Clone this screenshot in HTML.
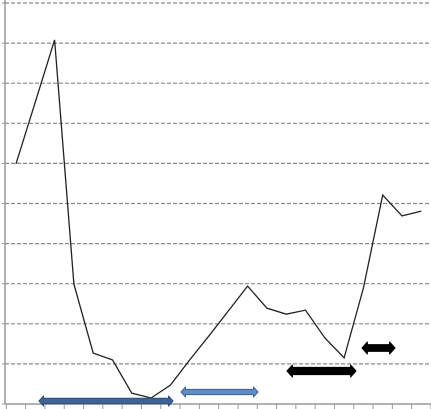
<!DOCTYPE html>
<html><head><meta charset="utf-8"><style>
html,body{margin:0;padding:0;background:#fff;}
svg{display:block;font-family:"Liberation Sans",sans-serif;}
</style></head><body>
<svg id="chart" width="431" height="409" viewBox="0 0 431 409" xmlns="http://www.w3.org/2000/svg">
<g id="grid"></g><g id="axes"></g><g id="series"></g><g id="arrows"></g>
</svg>
<script>
const categories = Array.from({length:22},(_,i)=>'C'+(i+1));
const values = [5.99,7.53,9.08,2.99,1.27,1.10,0.27,0.15,0.47,1.10,1.70,2.32,2.94,2.39,2.24,2.34,1.65,1.15,2.89,5.21,4.69,4.81];
const yTicks = [0,1,2,3,4,5,6,7,8,9,10];
const ns='http://www.w3.org/2000/svg';
const X0=16, DX=19.3, Y0=404, DY=40.1, AX=5;
const xs=i=>X0+DX*i, ys=v=>Y0-DY*v;
function mk(tag,attrs,parent){const e=document.createElementNS(ns,tag);for(const k in attrs)e.setAttribute(k,attrs[k]);parent.appendChild(e);return e;}
const grid=document.getElementById('grid'), axes=document.getElementById('axes'), series=document.getElementById('series'), arrows=document.getElementById('arrows');
yTicks.forEach(t=>{
  if(t>0){const g=mk('line',{x1:AX,x2:431,y1:ys(t),y2:ys(t),stroke:'#888','stroke-width':1.2,'stroke-dasharray':'4,2'},grid);
  
  }
  const tk=mk('line',{x1:2,x2:AX,y1:ys(t),y2:ys(t),stroke:'#999','stroke-width':1},axes);
  
  
});
const ya=mk('line',{x1:AX,x2:AX,y1:0,y2:Y0,stroke:'#999','stroke-width':1.5},axes);


const xa=mk('line',{x1:AX,x2:431,y1:Y0,y2:Y0,stroke:'#999','stroke-width':1.5},axes);


for(let i=0;i<=categories.length;i++){
  const x=X0-DX/2+DX*i;
  const t=mk('line',{x1:x,x2:x,y1:Y0,y2:Y0+5,stroke:'#999','stroke-width':1},axes);
  
  
}
const pl=mk('polyline',{points:values.map((v,i)=>xs(i)+','+ys(v)).join(' '),fill:'none',stroke:'#222','stroke-width':1.3},series);


function arrow(x1,x2,y,w,s,color,outline,name){
  const g=mk('g',{},arrows);
  
  
  const h=w*0.9;
  const d=`M${x1},${y} L${x1+h},${y-w} L${x1+h},${y-s} L${x2-h},${y-s} L${x2-h},${y-w} L${x2},${y} L${x2-h},${y+w} L${x2-h},${y+s} L${x1+h},${y+s} L${x1+h},${y+w} Z`;
  mk('path',{d:d,fill:color,stroke:outline,'stroke-width':1,'stroke-linejoin':'round'},g);
}
arrow(39,173,401,5,2.8,'#3e6496','#2e4e78','arrow-dark-blue');
arrow(181,258,392,5,2.6,'#5f8dc4','#3e6496','arrow-light-blue');
arrow(287,356,371,6,3.6,'#000','#000','arrow-black-long');
arrow(362,395,348,6,3.4,'#000','#000','arrow-black-short');
</script>
</body></html>
